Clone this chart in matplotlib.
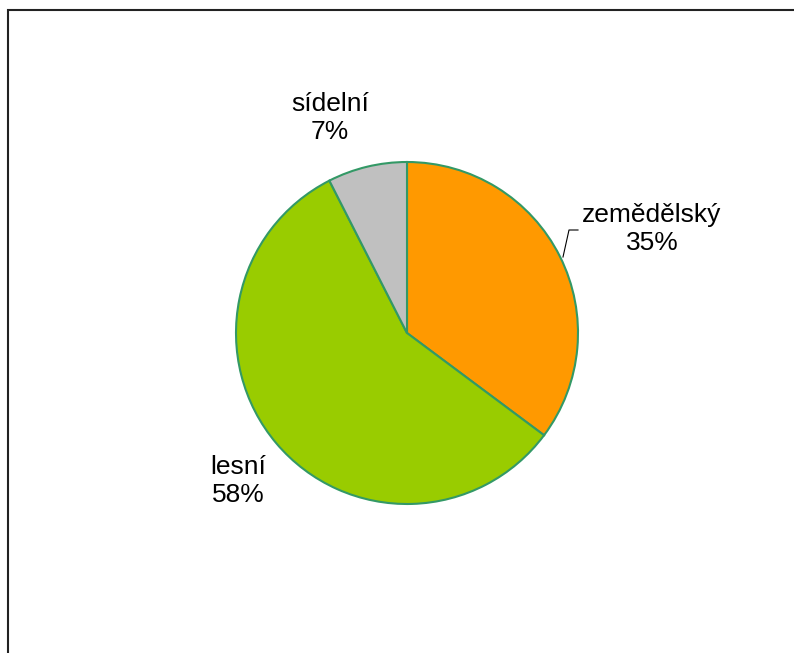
import matplotlib.pyplot as plt
from matplotlib.patches import Rectangle

# land use shares (slice sizes, printed percentages as shown)
labels = ["zemědělský", "lesní", "sídelní"]
shares = [35.2, 57.3, 7.5]
pct_text = [35, 58, 7]
colors = ["#FF9900", "#99CC00", "#C0C0C0"]

plt.rcParams['font.family'] = ['Liberation Sans', 'DejaVu Sans']

W, H = 794, 653
cx, cy, r = 407, 333, 171

fig = plt.figure(figsize=(W / 100, H / 100), dpi=100)
ax = fig.add_axes([0, 0, 1, 1])
ax.axis('off')

ax.pie(shares, colors=colors, startangle=90, counterclock=False, radius=1,
       wedgeprops=dict(edgecolor="#339966", linewidth=1.5))
ax.set_xlim(-cx / r, (W - cx) / r)
ax.set_ylim(-(H - cy) / r, cy / r)
ax.set_aspect('auto')

# label positions (pixel centres in the picture)
label_pos = [(652, 229), (238, 481), (330, 118)]
for name, val, (px, py) in zip(labels, pct_text, label_pos):
    ax.text((px - cx) / r, (cy - py) / r, f"{name}\n{val}%", ha='center', va='center',
            fontsize=19, linespacing=1.2, color='black')

# leader line for zemědělský
lx = [(563 - cx) / r, (569 - cx) / r, (578 - cx) / r]
ly = [(cy - 257) / r, (cy - 230) / r, (cy - 230) / r]
ax.plot(lx, ly, color='black', linewidth=0.8)

# chart area border
fig.patches.append(Rectangle((8 / W, -0.1), 1.1, (H - 9.5) / H + 0.1,
                             transform=fig.transFigure, fill=False,
                             edgecolor='#222222', linewidth=1.5))

fig.savefig('out.png', dpi=100)
